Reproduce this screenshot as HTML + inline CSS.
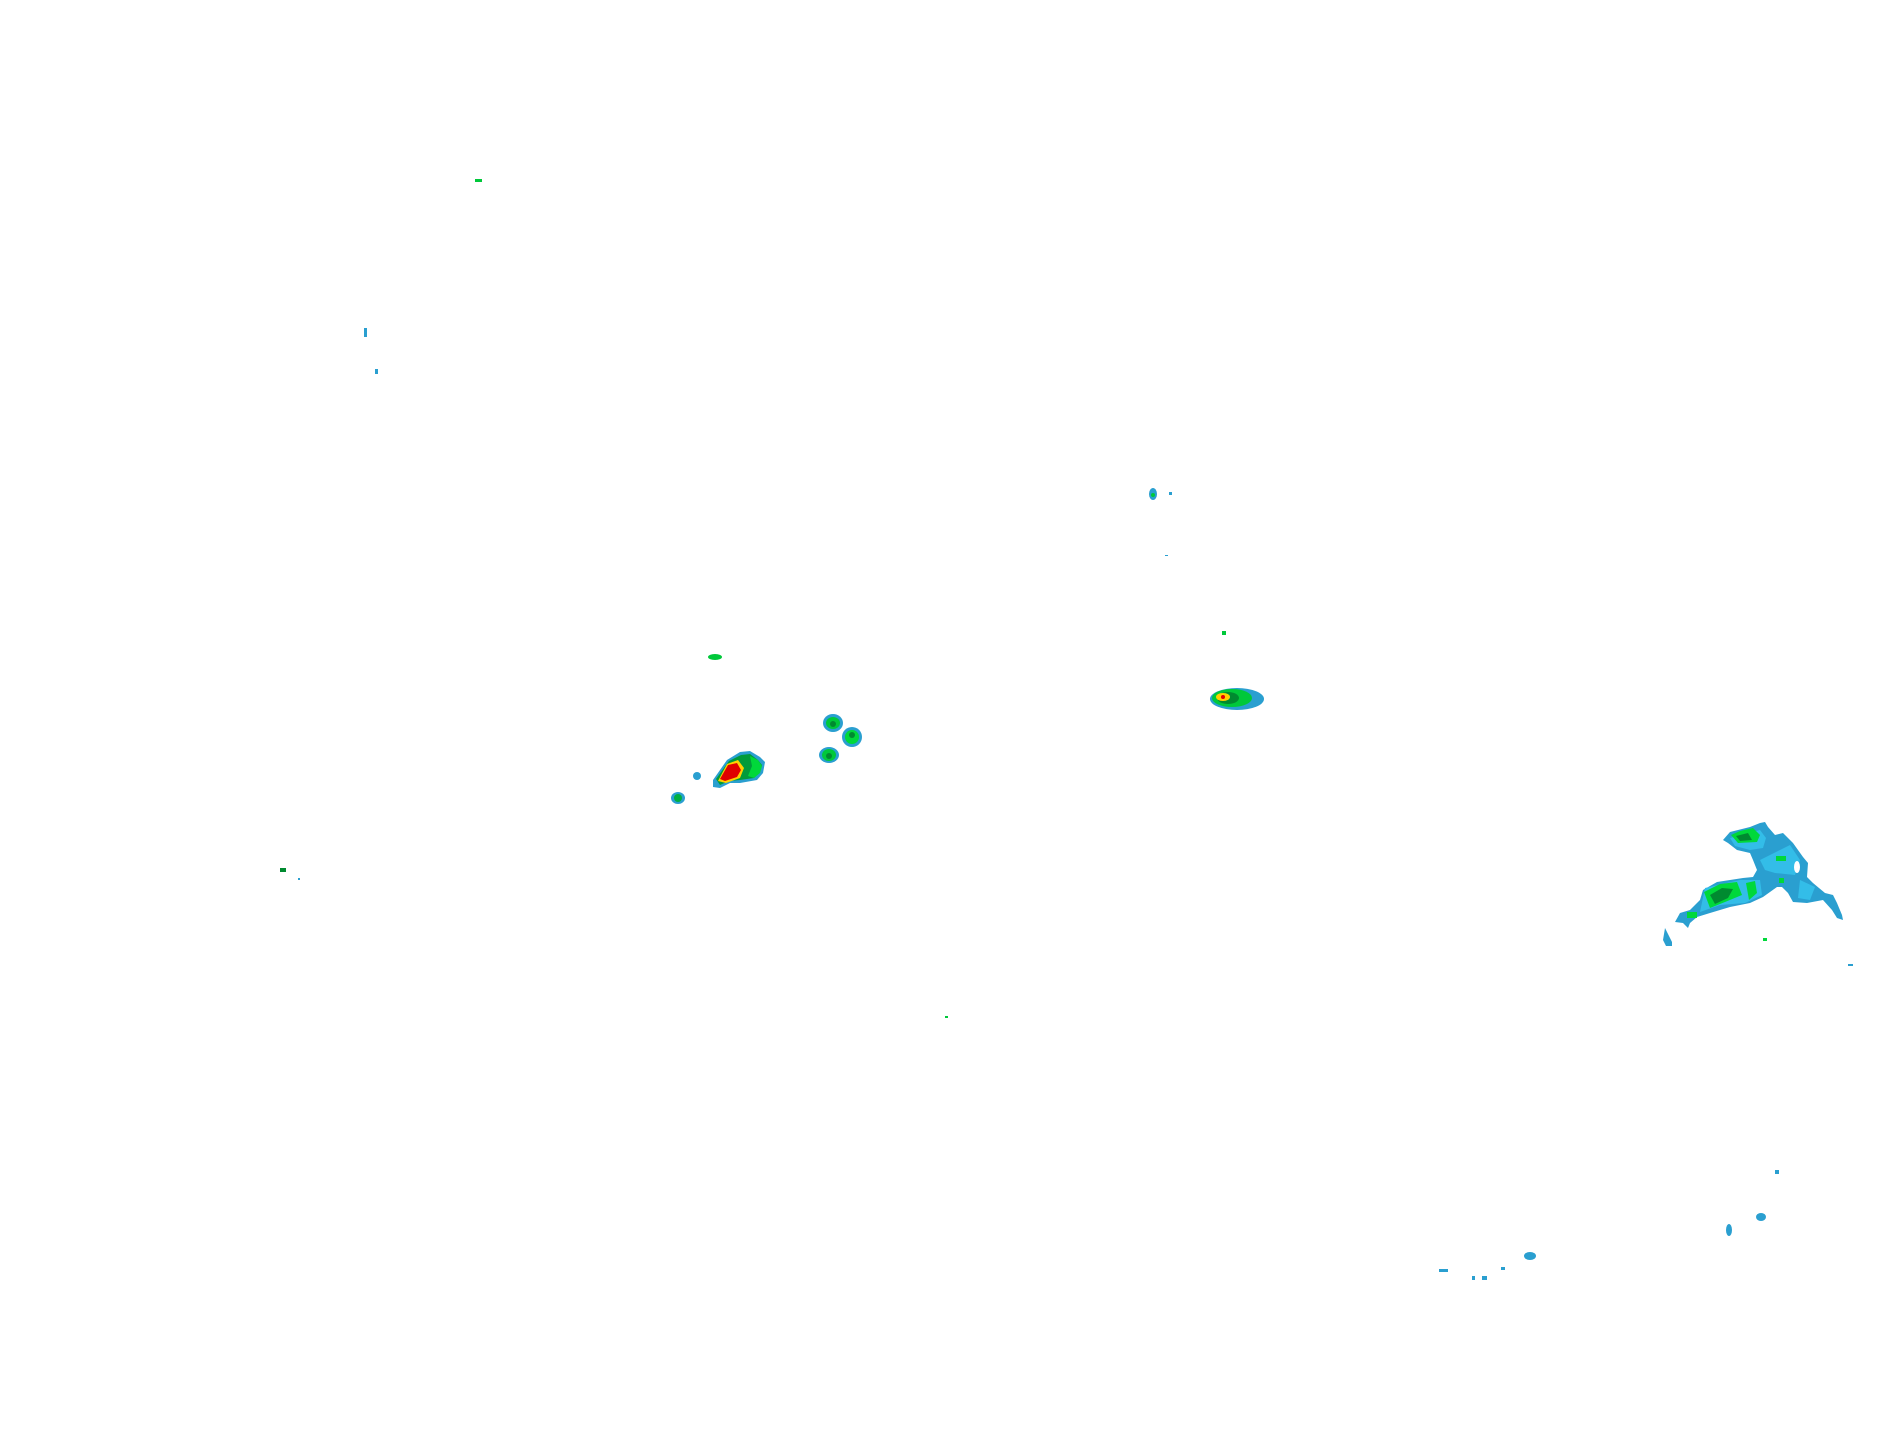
<!DOCTYPE html>
<html><head><meta charset="utf-8"><style>html,body{margin:0;padding:0;background:#fff}svg{display:block}</style></head>
<body>
<svg width="1904" height="1441" viewBox="0 0 1904 1441" xmlns="http://www.w3.org/2000/svg">
<rect width="1904" height="1441" fill="#fff"/>
<polygon fill="#2a9fd0" points="713,780 727,760 740,752 750,751 760,757 765,762 763,773 757,780 740,783 730,783 720,788 713,787"/>
<polygon fill="#009b3a" points="716,779 729,761 741,755 750,754 758,760 762,765 760,772 754,778 740,780 729,781 720,785"/>
<polygon fill="#00d83a" points="750,756 758,760 762,766 760,773 754,778 748,776 752,766"/>
<polygon fill="#ffd000" points="718,781 727,764 738,760 744,768 740,778 726,783"/>
<polygon fill="#e00000" points="720,779 728,765 737,763 741,770 737,777 725,781"/>
<circle cx="697" cy="776" r="4" fill="#2a9fd0"/>
<ellipse cx="678" cy="798" rx="7" ry="6" fill="#2a9fd0"/><ellipse cx="678" cy="798" rx="4" ry="4" fill="#00b040"/>
<ellipse cx="833" cy="723" rx="10" ry="9" fill="#2a9fd0"/><ellipse cx="833" cy="723" rx="7" ry="6" fill="#00c83a"/><circle cx="833" cy="724" r="3" fill="#008a30"/>
<ellipse cx="852" cy="737" rx="10" ry="10" fill="#2a9fd0"/><ellipse cx="852" cy="737" rx="7" ry="7" fill="#00d83a"/><circle cx="852" cy="735" r="3" fill="#008a30"/>
<ellipse cx="829" cy="755" rx="10" ry="8" fill="#2a9fd0"/><ellipse cx="829" cy="755" rx="7" ry="6" fill="#00c83a"/><circle cx="829" cy="756" r="3" fill="#008a30"/>
<ellipse cx="1237" cy="699" rx="27" ry="11" fill="#2a9fd0"/>
<ellipse cx="1232" cy="698" rx="20" ry="9" fill="#00c83a"/>
<ellipse cx="1228" cy="698" rx="11" ry="6" fill="#008a30"/>
<ellipse cx="1223" cy="697" rx="7" ry="4" fill="#ffd000"/>
<circle cx="1223" cy="697" r="2" fill="#e00000"/>
<polygon fill="#2a9fd0" points="1723,840 1730,832 1750,827 1760,823 1765,822 1768,827 1775,835 1783,833 1793,843 1803,857 1808,863 1807,877 1813,883 1825,893 1833,895 1837,903 1842,915 1843,920 1837,918 1832,910 1823,900 1807,903 1793,902 1788,893 1782,887 1777,887 1763,897 1750,903 1730,907 1710,913 1697,917 1690,923 1688,928 1683,923 1675,922 1680,913 1690,910 1700,900 1703,890 1717,882 1743,878 1753,877 1757,870 1753,860 1750,853 1737,850 1728,843"/>
<polygon fill="#33bde8" points="1730,838 1760,830 1766,838 1763,848 1750,850 1735,846"/>
<polygon fill="#33bde8" points="1760,860 1790,845 1800,860 1795,875 1775,873 1765,870"/>
<polygon fill="#33bde8" points="1705,888 1740,880 1760,880 1762,895 1745,903 1720,905 1700,912"/>
<polygon fill="#33bde8" points="1800,880 1815,887 1810,900 1798,898"/>
<polygon fill="#00d83a" points="1731,835 1740,831 1753,828 1760,835 1757,842 1738,843"/>
<polygon fill="#008a30" points="1736,836 1748,833 1752,840 1740,841"/>
<polygon fill="#00d83a" points="1704,892 1720,884 1737,882 1742,895 1725,902 1710,908"/>
<polygon fill="#008a30" points="1710,895 1722,888 1733,889 1728,898 1715,904"/>
<polygon fill="#00d83a" points="1746,883 1755,881 1757,893 1749,900"/>
<rect x="1776" y="856" width="10" height="5" fill="#00d83a"/>
<rect x="1779" y="878" width="5" height="5" fill="#00d83a"/>
<rect x="1687" y="912" width="10" height="6" fill="#00d83a"/>
<ellipse cx="1797" cy="867" rx="3" ry="6" fill="#fff"/>
<polygon fill="#2a9fd0" points="1665,928 1668,934 1672,942 1672,946 1666,946 1663,940"/>
<rect x="1763" y="938" width="4" height="3" fill="#00d83a"/>
<rect x="1848" y="964" width="5" height="2" fill="#2a9fd0"/>
<rect x="475" y="179" width="7" height="3" fill="#00c83a"/>
<rect x="364" y="328" width="3" height="9" fill="#2a9fd0"/>
<rect x="375" y="369" width="3" height="5" fill="#2a9fd0"/>
<ellipse cx="1153" cy="494" rx="4" ry="6" fill="#2a9fd0"/><circle cx="1153" cy="495" r="2" fill="#00c83a"/>
<rect x="1169" y="492" width="3" height="3" fill="#2a9fd0"/>
<rect x="1165" y="555" width="3" height="1" fill="#2a9fd0"/>
<rect x="1222" y="631" width="4" height="4" fill="#00c83a"/>
<ellipse cx="715" cy="657" rx="7" ry="3" fill="#00c83a"/>
<rect x="280" y="868" width="6" height="4" fill="#008a30"/>
<rect x="298" y="878" width="2" height="2" fill="#2a9fd0"/>
<rect x="945" y="1016" width="3" height="2" fill="#00c83a"/>
<ellipse cx="1729" cy="1230" rx="3" ry="6" fill="#2a9fd0"/>
<ellipse cx="1761" cy="1217" rx="5" ry="4" fill="#2a9fd0"/>
<rect x="1775" y="1170" width="4" height="4" fill="#2a9fd0"/>
<ellipse cx="1530" cy="1256" rx="6" ry="4" fill="#2a9fd0"/>
<rect x="1439" y="1269" width="9" height="3" fill="#2a9fd0"/>
<rect x="1482" y="1276" width="5" height="4" fill="#2a9fd0"/>
<rect x="1501" y="1267" width="4" height="3" fill="#2a9fd0"/>
<rect x="1472" y="1276" width="3" height="4" fill="#2a9fd0"/>
</svg>
</body></html>
